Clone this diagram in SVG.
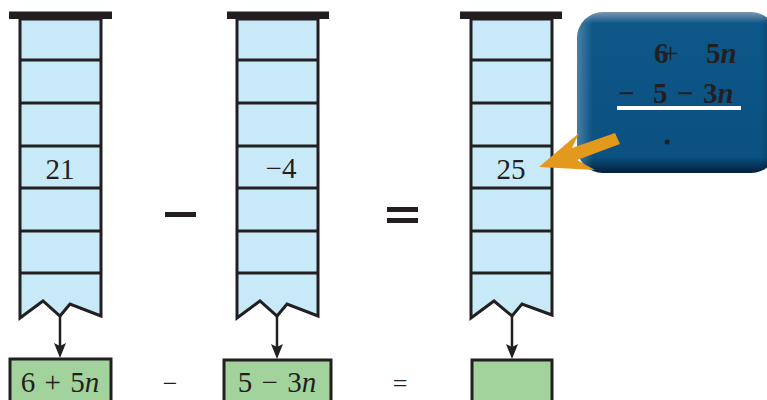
<svg xmlns="http://www.w3.org/2000/svg" width="767" height="400" viewBox="0 0 767 400">
<style>
.cell{fill:#C8E9F8;stroke:#231F20;stroke-width:3}
.div{stroke:#231F20;stroke-width:3}
.bar{fill:#231F20}
.ans{fill:#A3D39C;stroke:#231F20;stroke-width:3}
.t{font-family:"Liberation Serif",serif;font-size:29px;fill:#231F20;text-anchor:middle}
.cb{font-family:"Liberation Serif",serif;font-size:29px;font-weight:bold;fill:#231F20}
.conn{stroke:#231F20;stroke-width:2.5;fill:none}
.head{fill:#231F20}
</style>
<defs>
<linearGradient id="cg" x1="0" y1="0" x2="0" y2="1">
<stop offset="0" stop-color="#7C98B0"/>
<stop offset="0.07" stop-color="#0D5788"/>
<stop offset="0.9" stop-color="#0B5182"/>
<stop offset="1" stop-color="#04203A"/>
</linearGradient>
<linearGradient id="cgx" x1="0" y1="0" x2="1" y2="0">
<stop offset="0" stop-color="#FFFFFF" stop-opacity="0.25"/>
<stop offset="0.08" stop-color="#FFFFFF" stop-opacity="0"/>
<stop offset="0.92" stop-color="#000000" stop-opacity="0"/>
<stop offset="1" stop-color="#000000" stop-opacity="0.3"/>
</linearGradient>
</defs>

<g id="column1">
<path class="cell" d="M20,19 L101,19 L101,316 L70,304 L60,316 L43,301 L20,318 Z"/>
<path class="div" d="M20,60H101M20,103H101M20,146H101M20,188H101M20,231H101M20,273H101"/>
<rect class="bar" x="9" y="11.5" width="103" height="7.5"/>
<text class="t" x="60" y="179">21</text>
</g>

<g id="column2">
<path class="cell" d="M237,19 L318,19 L318,316 L287,304 L277,316 L260,301 L237,318 Z"/>
<path class="div" d="M237,60H318M237,103H318M237,146H318M237,188H318M237,231H318M237,273H318"/>
<rect class="bar" x="227" y="11.5" width="102" height="7.5"/>
<text class="t" x="281" y="178">−4</text>
</g>

<g id="column3">
<path class="cell" d="M471,19 L552,19 L552,315 L522,304 L512,316 L494,301 L471,318 Z"/>
<path class="div" d="M471,60H552M471,103H552M471,146H552M471,188H552M471,231H552M471,273H552"/>
<rect class="bar" x="460" y="11.5" width="102" height="7.5"/>
<text class="t" x="511" y="179">25</text>
</g>

<g id="operators">
<rect x="165" y="212" width="31" height="5" fill="#231F20"/>
<rect x="387" y="207" width="31" height="5" fill="#231F20"/>
<rect x="387" y="218" width="31" height="5" fill="#231F20"/>
<text class="t" x="170" y="392" style="font-size:26px">−</text>
<text class="t" x="400" y="392" style="font-size:26px">=</text>
</g>

<g id="connectors">
<line class="conn" x1="60" y1="316" x2="60" y2="348"/>
<path class="head" d="M60,358 L54,343 L60,346 L66,343 Z"/>
<line class="conn" x1="277" y1="316" x2="277" y2="349"/>
<path class="head" d="M277,359 L271,344 L277,347 L283,344 Z"/>
<line class="conn" x1="512" y1="316" x2="512" y2="349"/>
<path class="head" d="M512,359 L506,344 L512,347 L518,344 Z"/>
</g>

<g id="box1">
<rect class="ans" x="10" y="359" width="101" height="50"/>
<text class="t" x="60" y="392" word-spacing="2">6 + 5<tspan font-style="italic">n</tspan></text>
</g>
<g id="box2">
<rect class="ans" x="224" y="360" width="107" height="50"/>
<text class="t" x="277" y="392" word-spacing="2">5 − 3<tspan font-style="italic">n</tspan></text>
</g>
<g id="box3">
<rect class="ans" x="472" y="360" width="80" height="50"/>
</g>

<g id="callout">
<rect x="577" y="12" width="200" height="161" rx="26" fill="url(#cg)"/>
<rect x="577" y="12" width="200" height="161" rx="26" fill="url(#cgx)"/>
<text class="cb" x="654" y="63">6<tspan dx="-6" font-weight="normal">+</tspan><tspan x="706">5</tspan><tspan font-style="italic">n</tspan></text>
<text class="cb" y="103"><tspan x="618">−</tspan><tspan x="653">5</tspan><tspan x="677">−</tspan><tspan x="703">3</tspan><tspan font-style="italic">n</tspan></text>
<rect x="617" y="106" width="124" height="4" fill="#FFFFFF"/>
<circle cx="667" cy="142" r="2.5" fill="#231F20"/>
</g>

<g id="pointer">
<path d="M539,167 L579,133 L572,148 L615,133 L620,144 L577,160 L595,170 Z" fill="#E39A1C"/>
</g>
</svg>
